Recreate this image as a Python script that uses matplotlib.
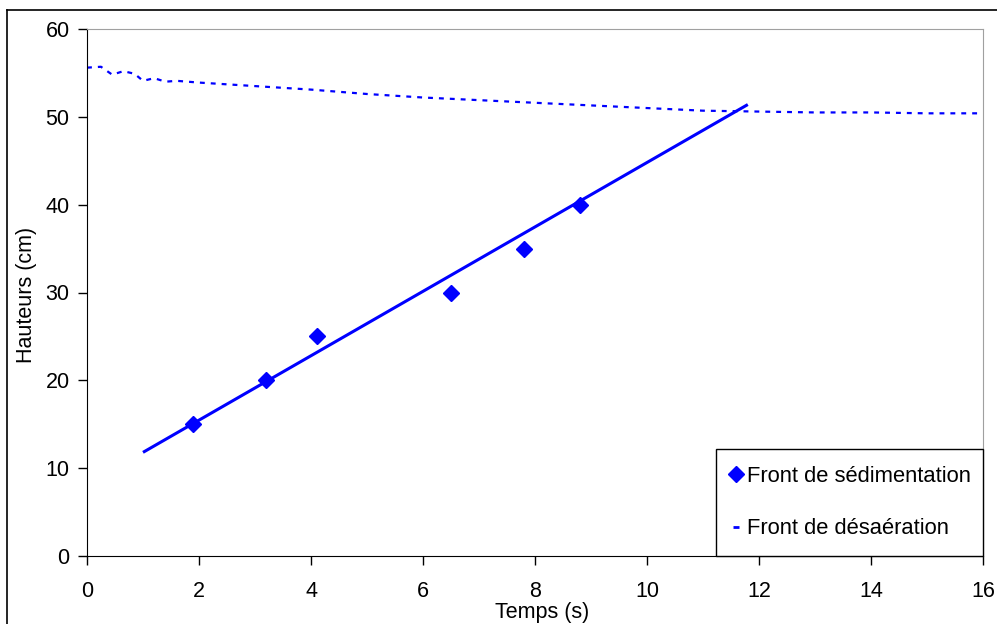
import numpy as np
import matplotlib
matplotlib.use("Agg")
import matplotlib.pyplot as plt
from matplotlib.lines import Line2D
from matplotlib.patches import Rectangle

plt.rcParams['font.family'] = ['Liberation Sans', 'DejaVu Sans']

# mesures du front de sedimentation
sed_t = [1.9, 3.2, 4.1, 6.5, 7.8, 8.8]
sed_h = [15, 20, 25, 30, 35, 40]

# droite de tendance (extremites)
fit_t = [1.0, 11.8]
fit_h = [11.8, 51.4]

# front de desaeration
des_t = [0, 0.25, 0.45, 0.65, 0.85, 1.0, 1.2, 1.4, 1.6, 2, 3, 4, 5, 6, 7, 8,
         9, 10, 11, 12, 13, 14, 15, 16]
des_h = [55.6, 55.7, 54.8, 55.2, 54.9, 54.1, 54.4, 54.0, 54.1, 53.9, 53.5, 53.1,
         52.6, 52.2, 51.9, 51.6, 51.3, 51.0, 50.7, 50.6, 50.5, 50.5, 50.4, 50.4]

xticks = [0, 2, 4, 6, 8, 10, 12, 14, 16]
yticks = [0, 10, 20, 30, 40, 50, 60]

blue = '#0000ff'
fs = 15.5

fig = plt.figure(figsize=(9.97, 6.24), dpi=100)
ax = fig.add_axes([87/997, 1-556/624, 896/997, 527/624])

ax.plot(fit_t, fit_h, color=blue, lw=2.2, solid_capstyle='butt', zorder=2)
sed, = ax.plot(sed_t, sed_h, ls='none', marker='D', ms=8.5, color=blue, zorder=3)
ax.plot(des_t, des_h, color=blue, lw=1.6, dashes=(2.2, 2.7), zorder=2)

ax.set_xlim(0, 16)
ax.set_ylim(0, 60)
ax.set_xticks(xticks)
ax.set_yticks(yticks)
ax.tick_params(direction='out', length=6.5, width=1, labelsize=fs)
ax.tick_params(axis='x', pad=11.5)
ax.tick_params(axis='y', pad=6)
for s in ['top', 'right']:
    ax.spines[s].set_color('#a0a0a0')
for s in ['left', 'bottom']:
    ax.spines[s].set_color('black')

ax.set_xlabel('Temps (s)', fontsize=fs)
ax.set_ylabel('Hauteurs (cm)', fontsize=fs)
ax.xaxis.set_label_coords(0.508, -0.088)
ax.yaxis.set_label_coords(-0.056, 0.495)

# cadre de la legende
box = (0.702, 0.0, 0.298, 0.203)
ax.add_patch(Rectangle(box[:2], box[2], box[3], transform=ax.transAxes,
                       facecolor='white', edgecolor='black', lw=1, zorder=4,
                       clip_on=False))

# petit tiret pour la legende du front de desaeration
des_handle = Line2D([], [], ls='none', marker='_', ms=5, mew=2, color=blue)
leg = ax.legend([sed, des_handle], ['Front de sédimentation', 'Front de désaération'],
                loc='center', bbox_to_anchor=box, borderaxespad=0,
                fontsize=15.8, frameon=False, handlelength=0.8,
                handletextpad=0.1, borderpad=0, labelspacing=1.45)
leg.set_zorder(5)

# cadre du graphique
fig.add_artist(Line2D([7/997, 7/997], [0, 1-10/624], color='black', lw=1.2,
                      transform=fig.transFigure))
fig.add_artist(Line2D([7/997, 1], [1-10/624, 1-10/624], color='black', lw=1.2,
                      transform=fig.transFigure))

fig.savefig('out.png', dpi=100)
